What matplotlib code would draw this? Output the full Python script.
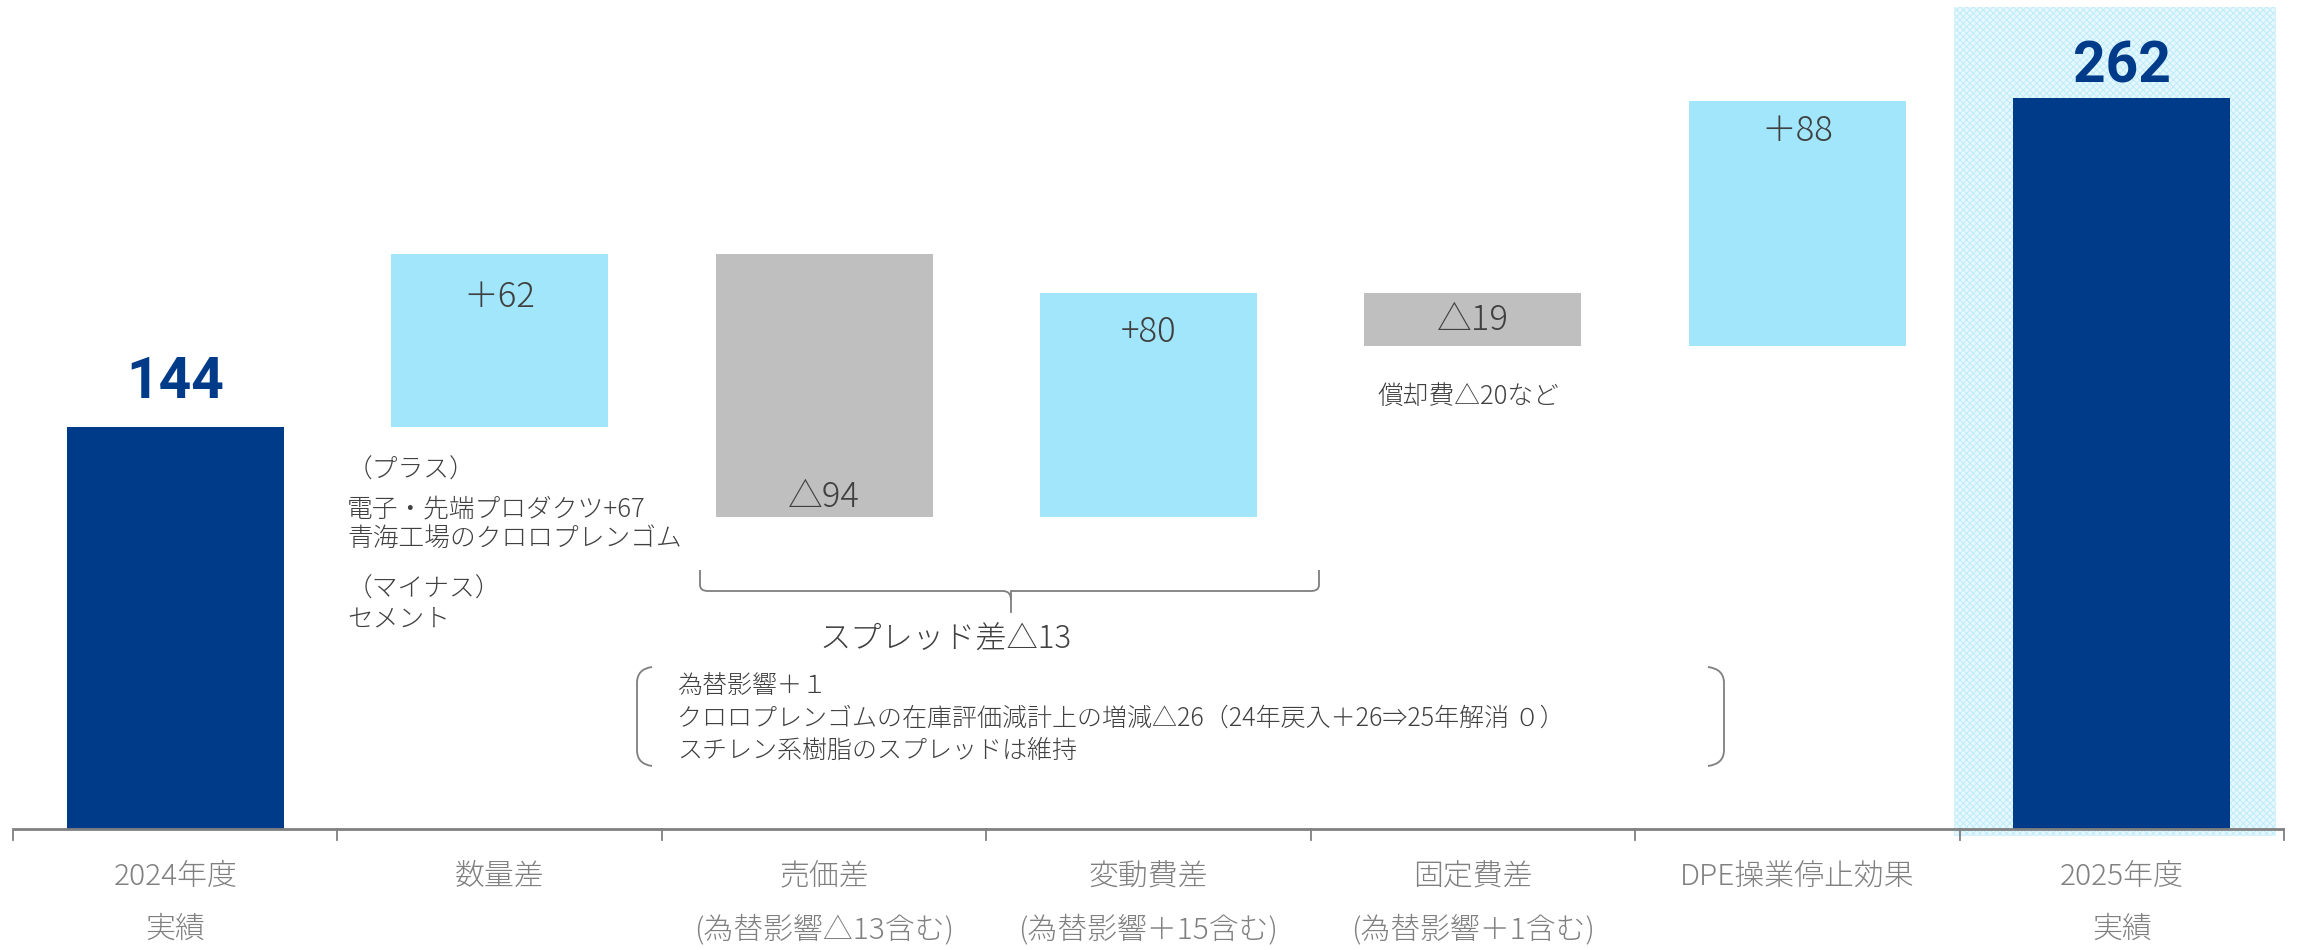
import matplotlib
matplotlib.use("Agg")
import matplotlib.pyplot as plt
from matplotlib.patches import Rectangle, PathPatch
from matplotlib.path import Path

plt.rcParams['font.family'] = ['Noto Sans CJK JP', 'DejaVu Sans']
plt.rcParams['hatch.linewidth'] = 0.7

# ---------------- data ----------------
categories_l1 = ["2024年度", "数量差", "売価差", "変動費差", "固定費差", "DPE操業停止効果", "2025年度"]
categories_l2 = ["実績", "", "(為替影響△13含む)", "(為替影響＋15含む)", "(為替影響＋1含む)", "", "実績"]
start_value = 144
end_value = 262
deltas = [62, -94, 80, -19, 88]
delta_labels = ["＋62", "△94", "+80", "△19", "＋88"]

# ---------------- style ----------------
NAVY = "#003B8A"
LBLUE = "#A2E6FB"
GRAY = "#BFBFBF"
TXT = "#404040"
AX_GRAY = "#808080"

W, H = 2300, 950
fig = plt.figure(figsize=(23, 9.5), dpi=100)
base_px = 829
ppu = 2.79  # pixels per unit
ax = fig.add_axes([13 / W, (H - base_px) / H, 2271 / W, base_px / H])
ax.set_xlim(-0.5, 6.5)
ax.set_ylim(0, base_px / ppu)
ax.axis('off')

def py(px):  # pixel y -> data y (for annotation layout)
    return (base_px - px) / ppu

def pxx(px):  # pixel x -> data x
    return (px - 13) / 324.43 - 0.5

bw = 0.669

# highlight area for final year
hl = Rectangle((pxx(1954), py(836)), pxx(2276) - pxx(1954), py(7) - py(836),
               facecolor="#E6F8FE", edgecolor="#BEEBFA", hatch="xxxxx", linewidth=0,
               zorder=0, clip_on=False)
ax.add_patch(hl)

# bars
ax.bar(0, start_value, width=bw, color=NAVY, zorder=2)
ax.bar(6, end_value, width=bw, color=NAVY, zorder=2)
label_offsets = [-31, 14, -28, 0, -22]
cum = start_value
for i, d in enumerate(deltas):
    x = i + 1
    if d >= 0:
        ax.bar(x, d, bottom=cum, width=bw, color=LBLUE, zorder=2)
    else:
        ax.bar(x, -d, bottom=cum + d, width=bw, color=GRAY, zorder=2)
    cum_new = cum + d
    top = max(cum, cum_new)
    bot = min(cum, cum_new)
    if d >= 0:
        anchor = top
    elif -d > 40:
        anchor = bot
    else:
        anchor = (top + bot) / 2
    ax.annotate(delta_labels[i], (x, anchor), xytext=(0, label_offsets[i]),
                textcoords='offset points', ha='center', va='center',
                fontsize=25, color=TXT, fontweight='light', zorder=3)
    cum = cum_new

ax.annotate(str(start_value), (0, start_value), xytext=(0, 32), textcoords='offset points',
            ha='center', va='center', fontsize=41, fontweight='bold', color=NAVY,
            family=['Roboto', 'DejaVu Sans'])
ax.annotate(str(end_value), (6, end_value), xytext=(0, 22), textcoords='offset points',
            ha='center', va='center', fontsize=41, fontweight='bold', color=NAVY,
            family=['Roboto', 'DejaVu Sans'])

# axis line and ticks
ax.plot([-0.5, 6.5], [0, 0], color=AX_GRAY, lw=2, zorder=4, clip_on=False, solid_capstyle='butt')
for t in range(8):
    ax.plot([t - 0.5, t - 0.5], [0, py(840)], color=AX_GRAY, lw=1.3, zorder=4, clip_on=False)

# category labels
for i in range(7):
    ax.text(i, py(877), categories_l1[i], ha='center', va='center', fontsize=21.5,
            color=AX_GRAY, fontweight='light', clip_on=False)
    if categories_l2[i]:
        ax.text(i, py(930), categories_l2[i], ha='center', va='center', fontsize=21.5,
                color=AX_GRAY, fontweight='light', clip_on=False)

# annotations: 数量差
ann_x = pxx(347)
for txt, ypx in [("（プラス）", 470), ("電子・先端プロダクツ+67", 509), ("青海工場のクロロプレンゴム", 539),
                 ("（マイナス）", 589), ("セメント", 619)]:
    ax.text(ann_x, py(ypx), txt, ha='left', va='center', fontsize=18.5, color=TXT,
            fontweight='light', clip_on=False)

# 固定費差 note
ax.text(pxx(1377), py(397), "償却費△20など", ha='left', va='center', fontsize=18.5,
        color=TXT, fontweight='light')

# bracket under 売価差 & 変動費差
def P(xp, yp):
    return (pxx(xp), py(yp))

verts = [P(700, 570), P(700, 585), P(700, 591), P(708, 591), P(1003, 591), P(1011, 591),
         P(1011, 600), P(1011, 591), P(1019, 591), P(1311, 591), P(1319, 591), P(1319, 585), P(1319, 570)]
codes = [Path.MOVETO, Path.LINETO, Path.CURVE3, Path.CURVE3, Path.LINETO, Path.CURVE3, Path.CURVE3,
         Path.MOVETO, Path.LINETO, Path.LINETO, Path.CURVE3, Path.CURVE3, Path.LINETO]
ax.add_patch(PathPatch(Path(verts, codes), fill=False, edgecolor="#7F7F7F", lw=1.3, clip_on=False))
ax.plot([pxx(1011), pxx(1011)], [py(591), py(612)], color="#7F7F7F", lw=1.3, clip_on=False)

ax.text(pxx(946), py(640), "スプレッド差△13", ha='center', va='center', fontsize=22.5,
        color=TXT, fontweight='light')

# parenthesis box
def paren(x_out, x_in, y_top, y_bot):
    v = [P(x_out, y_top), P(x_in, y_top + 2), P(x_in, y_top + 16), P(x_in, y_bot - 16),
         P(x_in, y_bot - 2), P(x_out, y_bot)]
    c = [Path.MOVETO, Path.CURVE3, Path.CURVE3, Path.LINETO, Path.CURVE3, Path.CURVE3]
    ax.add_patch(PathPatch(Path(v, c), fill=False, edgecolor="#7F7F7F", lw=1.3, clip_on=False))

paren(652, 637, 667, 766)
paren(1708, 1724, 667, 766)

box_lines = ["為替影響＋１",
             "クロロプレンゴムの在庫評価減計上の増減△26（24年戻入＋26⇒25年解消 ０）",
             "スチレン系樹脂のスプレッドは維持"]
for txt, ypx in zip(box_lines, [686, 718, 751]):
    ax.text(pxx(677), py(ypx), txt, ha='left', va='center', fontsize=18, color=TXT,
            fontweight='light')

fig.savefig("out.png", dpi=100, facecolor="white")
